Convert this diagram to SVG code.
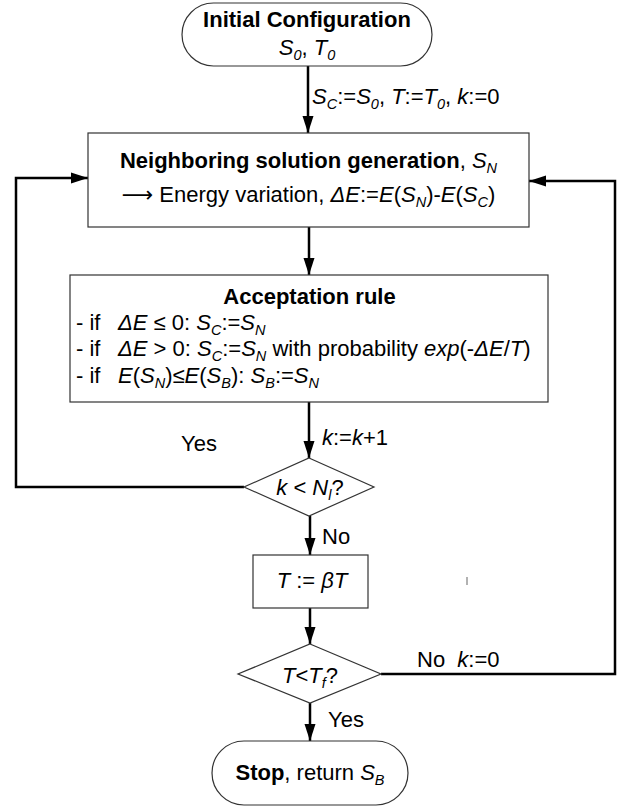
<svg xmlns="http://www.w3.org/2000/svg" width="619" height="808" viewBox="0 0 619 808">
<defs>
<style>
text{font-family:"Liberation Sans",Arial,sans-serif;font-size:22px;fill:#000}
.b{font-weight:bold}
.i{font-style:italic}
.s{font-size:14.5px;font-style:italic}
.ar{font-family:"DejaVu Sans",sans-serif}
.shape{fill:#fff;stroke:#333;stroke-width:1.2}
.c{fill:none;stroke:#000;stroke-width:2.5}
</style>
<marker id="ah" markerWidth="18" markerHeight="12" refX="17" refY="6" orient="auto" markerUnits="userSpaceOnUse"><path d="M0,0.5 L17,6 L0,11.5 z" fill="#000"/></marker>
</defs>
<rect width="619" height="808" fill="#fff"/>
<g id="connectors">
<path class="c" d="M308,66 V133" marker-end="url(#ah)"/>
<path class="c" d="M309,227 V275" marker-end="url(#ah)"/>
<path class="c" d="M309,402 V458" marker-end="url(#ah)"/>
<path class="c" d="M310,516 V555" marker-end="url(#ah)"/>
<path class="c" d="M310,608 V644" marker-end="url(#ah)"/>
<path class="c" d="M310,703 V741" marker-end="url(#ah)"/>
<path class="c" d="M244,487 H16 V178 H88" marker-end="url(#ah)"/>
<path class="c" d="M381,674 H615 V181 H529" marker-end="url(#ah)"/>
<text x="312" y="104"><tspan class="i">S</tspan><tspan class="s" dy="5">C</tspan><tspan dy="-5">:=</tspan><tspan class="i">S</tspan><tspan class="s" dy="5">0</tspan><tspan dy="-5">, </tspan><tspan class="i">T</tspan><tspan>:=</tspan><tspan class="i">T</tspan><tspan class="s" dy="5">0</tspan><tspan dy="-5">, </tspan><tspan class="i">k</tspan><tspan>:=0</tspan></text>
<text x="322" y="445"><tspan class="i">k</tspan>:=<tspan class="i">k</tspan>+1</text>
<text x="181" y="451">Yes</text>
<text x="322" y="544">No</text>
<text x="417" y="667" xml:space="preserve">No  <tspan class="i">k</tspan>:=0</text>
<text x="328" y="727">Yes</text>
</g>
<g id="start">
<rect class="shape" x="182" y="3" width="250" height="63" rx="31.5"/>
<text class="b" x="307" y="27" text-anchor="middle">Initial Configuration</text>
<text x="307" y="55" text-anchor="middle"><tspan class="i">S</tspan><tspan class="s" dy="5">0</tspan><tspan dy="-5">, </tspan><tspan class="i">T</tspan><tspan class="s" dy="5">0</tspan></text>
</g>
<g id="neighbor">
<rect class="shape" x="88" y="133" width="441" height="94"/>
<text x="308.5" y="168" text-anchor="middle"><tspan class="b">Neighboring solution generation</tspan>, <tspan class="i">S</tspan><tspan class="s" dy="5">N</tspan></text>
<text x="308.5" y="202" text-anchor="middle"><tspan class="ar">⟶</tspan> Energy variation, <tspan class="i">ΔE</tspan>:=<tspan class="i">E</tspan>(<tspan class="i">S</tspan><tspan class="s" dy="5">N</tspan><tspan dy="-5">)-</tspan><tspan class="i">E</tspan>(<tspan class="i">S</tspan><tspan class="s" dy="5">C</tspan><tspan dy="-5">)</tspan></text>
</g>
<g id="acceptation">
<rect class="shape" x="70" y="275" width="478" height="127"/>
<text class="b" x="309.5" y="304" text-anchor="middle">Acceptation rule</text>
<text x="76" y="330">- if<tspan x="118" class="i">ΔE</tspan> ≤ 0: <tspan class="i">S</tspan><tspan class="s" dy="5">C</tspan><tspan dy="-5">:=</tspan><tspan class="i">S</tspan><tspan class="s" dy="5">N</tspan></text>
<text x="76" y="356">- if<tspan x="118" class="i">ΔE</tspan> &gt; 0: <tspan class="i">S</tspan><tspan class="s" dy="5">C</tspan><tspan dy="-5">:=</tspan><tspan class="i">S</tspan><tspan class="s" dy="5">N</tspan><tspan dy="-5"> with probability </tspan><tspan class="i">exp</tspan>(-<tspan class="i">ΔE</tspan>/<tspan class="i">T</tspan>)</text>
<text x="76" y="383">- if<tspan x="118" class="i">E</tspan>(<tspan class="i">S</tspan><tspan class="s" dy="5">N</tspan><tspan dy="-5">)≤</tspan><tspan class="i">E</tspan>(<tspan class="i">S</tspan><tspan class="s" dy="5">B</tspan><tspan dy="-5">): </tspan><tspan class="i">S</tspan><tspan class="s" dy="5">B</tspan><tspan dy="-5">:=</tspan><tspan class="i">S</tspan><tspan class="s" dy="5">N</tspan></text>
</g>
<g id="decision-k">
<polygon class="shape" points="309,458 374,487 309,516 244,487"/>
<text x="310" y="495" text-anchor="middle"><tspan class="i">k</tspan> &lt; <tspan class="i">N</tspan><tspan class="s" dy="5">l</tspan><tspan dy="-5">?</tspan></text>
</g>
<g id="cooling">
<rect class="shape" x="253" y="555" width="115" height="53"/>
<text x="312" y="588" text-anchor="middle"><tspan class="i">T</tspan> := <tspan class="i">βT</tspan></text>
</g>
<g id="decision-t">
<polygon class="shape" points="310,644 381,674 310,703 238,674"/>
<text x="310" y="683" text-anchor="middle"><tspan class="i">T</tspan>&lt;<tspan class="i">T</tspan><tspan class="s" dy="5">f</tspan><tspan dy="-5">?</tspan></text>
</g>
<g id="stop">
<rect class="shape" x="212" y="741" width="196" height="64" rx="32"/>
<text x="310" y="780" text-anchor="middle"><tspan class="b">Stop</tspan>, return <tspan class="i">S</tspan><tspan class="s" dy="5">B</tspan></text>
</g>
<line x1="467" y1="577" x2="467" y2="585" stroke="#999" stroke-width="1.5"/>
</svg>
